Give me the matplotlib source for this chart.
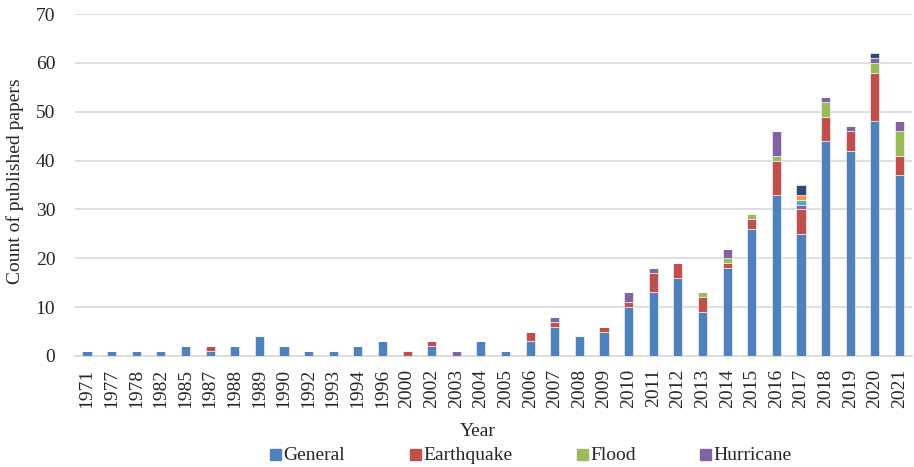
import matplotlib.pyplot as plt
import matplotlib.patches as mpatches
import numpy as np

years = ['1971', '1977', '1978', '1982', '1985', '1987', '1988', '1989', '1990', '1992',
         '1993', '1994', '1996', '2000', '2002', '2003', '2004', '2005', '2006', '2007',
         '2008', '2009', '2010', '2011', '2012', '2013', '2014', '2015', '2016', '2017',
         '2018', '2019', '2020', '2021']

general = [1, 1, 1, 1, 2, 1, 2, 4, 2, 1,
           1, 2, 3, 0, 2, 0, 3, 1, 3, 6,
           4, 5, 10, 13, 16, 9, 18, 26, 33, 25,
           44, 42, 48, 37]
earthquake = [0, 0, 0, 0, 0, 1, 0, 0, 0, 0,
              0, 0, 0, 1, 1, 0, 0, 0, 2, 1,
              0, 1, 1, 4, 3, 3, 1, 2, 7, 5,
              5, 4, 10, 4]
flood = [0, 0, 0, 0, 0, 0, 0, 0, 0, 0,
         0, 0, 0, 0, 0, 0, 0, 0, 0, 0,
         0, 0, 0, 0, 0, 1, 1, 1, 1, 0,
         3, 0, 2, 5]
hurricane = [0, 0, 0, 0, 0, 0, 0, 0, 0, 0,
             0, 0, 0, 0, 0, 1, 0, 0, 0, 1,
             0, 0, 2, 1, 0, 0, 2, 0, 5, 1,
             1, 1, 1, 2]
# unlabelled extra categories (only visible in 2017 / 2020)
other_a = [0] * 29 + [1, 0, 0, 0, 0]
other_b = [0] * 29 + [1, 0, 0, 0, 0]
other_c = [0] * 29 + [2, 0, 0, 1, 0]

series = [
    ('General', general, '#4F81BD'),
    ('Earthquake', earthquake, '#C0504D'),
    ('Flood', flood, '#9BBB59'),
    ('Hurricane', hurricane, '#8064A2'),
    (None, other_a, '#4BACC6'),
    (None, other_b, '#F79646'),
    (None, other_c, '#2C4D75'),
]

plt.rcParams['font.family'] = ['Liberation Serif', 'DejaVu Serif']

fig = plt.figure(figsize=(9.14, 4.67), dpi=100)
ax = fig.add_axes([74.7 / 914, 1 - 356 / 467, (911.8 - 74.7) / 914, (356 - 14) / 467])

x = np.arange(len(years))
bottom = np.zeros(len(years))
for name, vals, col in series:
    vals = np.array(vals, dtype=float)
    ax.bar(x, vals, width=0.37, bottom=bottom, color=col, edgecolor='white', linewidth=0.4, zorder=3)
    bottom += vals

ax.set_xlim(-0.5, len(years) - 0.5)
ax.set_ylim(0, 70)
ax.set_yticks(np.arange(0, 71, 10))
ax.set_xticks(x)
ax.set_xticklabels(years, rotation=90)
ax.tick_params(axis='both', length=0, labelsize=14, colors='#262626')
ax.tick_params(axis='y', pad=14)
ax.tick_params(axis='x', pad=9)
ax.grid(axis='y', color='#D9D9D9', linewidth=1.2, zorder=0)
for s in ['top', 'right', 'left']:
    ax.spines[s].set_visible(False)
ax.spines['bottom'].set_color('#D9D9D9')
ax.spines['bottom'].set_linewidth(1.2)

fig.text(15 / 914, 1 - 181 / 467, 'Count of published papers', rotation=90,
         ha='center', va='center', fontsize=14, color='#262626')
fig.text(478 / 914, 1 - 431 / 467, 'Year', ha='center', va='center', fontsize=14, color='#262626')

# legend drawn by hand to follow the original spacing
leg_x = [270, 410, 577, 700]
for (name, vals, col), lx in zip(series[:4], leg_x):
    fig.patches.append(mpatches.Rectangle((lx / 914, 1 - 460 / 467), 11 / 914, 11 / 467,
                                          transform=fig.transFigure, color=col))
    fig.text((lx + 13) / 914, 1 - 455 / 467, name, ha='left', va='center', fontsize=14, color='#262626')

fig.savefig('out.png', dpi=100)
